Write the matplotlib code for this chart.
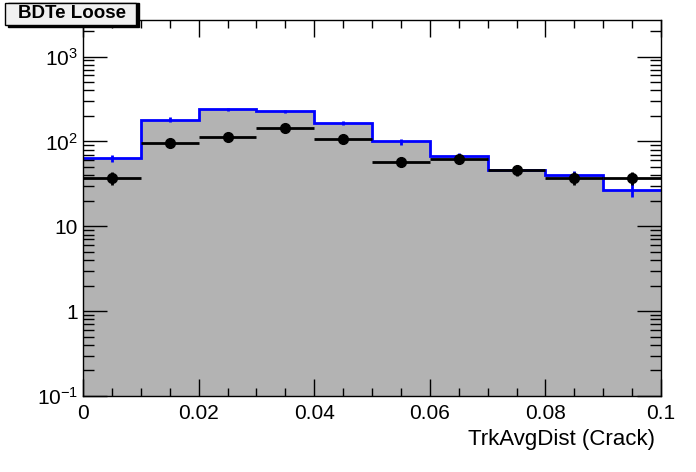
import numpy as np
import matplotlib
matplotlib.use("Agg")
import matplotlib.pyplot as plt
from matplotlib.ticker import FixedLocator, MultipleLocator, FuncFormatter, LogLocator
from matplotlib.patches import Rectangle

plt.rcParams['font.family'] = ['Liberation Sans', 'DejaVu Sans']
plt.rcParams['mathtext.fontset'] = 'custom'
plt.rcParams['mathtext.rm'] = 'Liberation Sans'

# binning and contents
bin_edges = [0.0, 0.01, 0.02, 0.03, 0.04, 0.05, 0.06, 0.07, 0.08, 0.09, 0.1]
mc_counts = [63, 181, 240, 227, 164, 100, 67, 46, 40, 27]
mc_errors = [6, 12, 10, 9, 9, 8, 6, 5, 5, 5]
data_counts = [37, 96, 114, 145, 107, 58, 62, 46, 37, 37]
title_text = "BDTe Loose"
x_label = "TrkAvgDist (Crack)"

edges = np.array(bin_edges)
centers = 0.5 * (edges[:-1] + edges[1:])
half_width = 0.5 * np.diff(edges)
data = np.array(data_counts, dtype=float)

fig = plt.figure(figsize=(6.96, 4.72), dpi=100)
ax = fig.add_axes([83 / 696, 1 - 396 / 472, 578 / 696, 376 / 472])

ax.stairs(mc_counts, edges, baseline=0.1, fill=True, color='#b3b3b3', lw=0)
ax.stairs(mc_counts, edges, baseline=None, color='#0000ff', lw=2)
ax.errorbar(centers, mc_counts, yerr=mc_errors, fmt='none', ecolor='#0000ff', elinewidth=2)
ax.errorbar(centers, data, xerr=half_width, yerr=np.sqrt(data), fmt='o', color='black',
            markersize=7, elinewidth=2, capsize=0)

ax.set_yscale('log')
ax.set_xlim(0, 0.1)
ax.set_ylim(0.1, 2700)

ax.xaxis.set_major_locator(MultipleLocator(0.02))
ax.xaxis.set_minor_locator(MultipleLocator(0.005))
ax.xaxis.set_major_formatter(FuncFormatter(lambda v, p: '0' if abs(v) < 1e-9 else ('%g' % v)))
ax.yaxis.set_major_locator(FixedLocator([0.1, 1, 10, 100, 1000]))
ax.yaxis.set_minor_locator(LogLocator(base=10, subs=np.arange(2, 10)))


def ylab(v, p):
    if abs(v - 1) < 1e-9:
        return '1'
    if abs(v - 10) < 1e-9:
        return '10'
    return r'$\mathregular{10^{%d}}$' % int(round(np.log10(v)))


ax.yaxis.set_major_formatter(FuncFormatter(ylab))
ax.tick_params(which='both', direction='in', top=True, right=True, labelsize=15, width=1)
ax.tick_params(which='major', length=17)
ax.tick_params(which='minor', length=8)
ax.tick_params(axis='x', which='major', length=12, pad=6)
ax.tick_params(axis='x', which='minor', length=6)
for s in ax.spines.values():
    s.set_linewidth(1)

ax.set_xlabel(x_label, fontsize=16, ha='right', x=0.99)

# title box with shadow (figure pixel coords)
W, H = 696, 472
fig.add_artist(Rectangle((8 / W, 1 - 27 / H), 131 / W, 24 / H, transform=fig.transFigure,
                         facecolor='black', edgecolor='black', lw=1))
fig.add_artist(Rectangle((5 / W, 1 - 25 / H), 131 / W, 22 / H, transform=fig.transFigure,
                         facecolor='#f0f0f0', edgecolor='black', lw=1))
fig.text(72 / W, 1 - 14 / H, title_text, ha='center', va='center', fontsize=13.5, fontweight='bold')

fig.savefig('out.png', dpi=100)
